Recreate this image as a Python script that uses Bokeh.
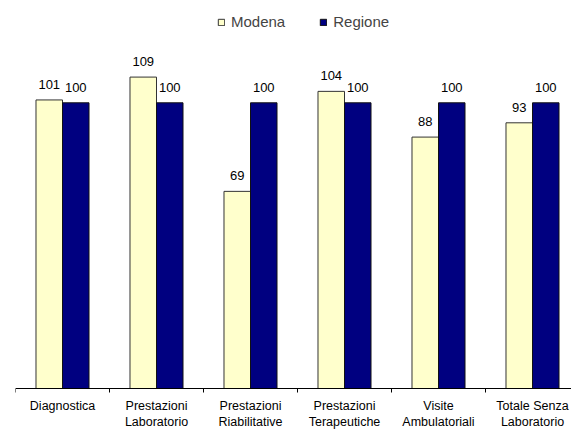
from bokeh.plotting import figure
from bokeh.models import ColumnDataSource, Range1d, Legend, LegendItem, Span
from bokeh.core.properties import value
from bokeh.transform import dodge
from bokeh.embed import file_html
from bokeh.resources import INLINE

# --- data -------------------------------------------------------------
categories_line1 = ["Diagnostica", "Prestazioni", "Prestazioni", "Prestazioni",
                    "Visite", "Totale Senza"]
categories_line2 = ["", "Laboratorio", "Riabilitative", "Terapeutiche",
                    "Ambulatoriali", "Laboratorio"]
modena = [101, 109, 69, 104, 88, 93]
regione = [100, 100, 100, 100, 100, 100]

# --- geometry ---------------------------------------------------------
W, H = 571, 429
CAT_PX = 94.0          # pixel width of one category slot
PX_PER_UNIT = 2.857    # vertical pixels per index point
BASELINE_PX = 388      # distance of the zero line from the top edge
LEFT_PX = 15
BAR_W = 0.282
TICK_PX = 4
FONT = "Liberation Sans"

n = len(modena)
centers = [i + 0.5 for i in range(n)]
bounds = list(range(n + 1))

src = ColumnDataSource(dict(
    x=centers,
    modena=modena,
    regione=regione,
    modena_lbl=[str(v) for v in modena],
    regione_lbl=[str(v) for v in regione],
    line1=categories_line1,
    line2=categories_line2,
    zero=[0] * n,
))

# the frame fills the whole canvas; zero sits BASELINE_PX from the top
p = figure(width=W, height=H, output_backend="svg", toolbar_location=None,
           x_range=Range1d(0, (W - LEFT_PX) / CAT_PX),
           y_range=Range1d(-(H - BASELINE_PX) / PX_PER_UNIT,
                           BASELINE_PX / PX_PER_UNIT),
           x_axis_type=None, y_axis_type=None,
           min_border_left=LEFT_PX, min_border_right=0,
           min_border_top=0, min_border_bottom=0)
p.outline_line_color = None
p.grid.visible = False
p.background_fill_color = "white"
p.border_fill_color = "white"

r_m = p.vbar(x=dodge("x", -BAR_W / 2), top="modena", bottom=0, width=BAR_W,
             source=src, fill_color="#FFFFCC", line_color="#333333", line_width=1)
r_r = p.vbar(x=dodge("x", BAR_W / 2), top="regione", bottom=0, width=BAR_W,
             source=src, fill_color="#000080", line_color="#111111", line_width=1)

# value labels above each bar
for col, lbl, off in (("modena", "modena_lbl", -BAR_W / 2),
                      ("regione", "regione_lbl", BAR_W / 2)):
    p.text(x=dodge("x", off), y=col, text=lbl, source=src,
           text_align="center", text_baseline="alphabetic", y_offset=-15.5,
           text_font=value(FONT), text_font_size="13px", text_color="black")

# category axis: zero line with ticks on the slot boundaries
p.add_layout(Span(location=0, dimension="width", line_color="black", line_width=1))
p.segment(x0=bounds, y0=[0] * len(bounds), x1=bounds,
          y1=[-TICK_PX / PX_PER_UNIT] * len(bounds), line_color="black", line_width=1)

# category names, two lines under each slot
for field, off in (("line1", 17), ("line2", 33)):
    p.text(x="x", y="zero", text=field, source=src, y_offset=off,
           text_align="center", text_baseline="alphabetic",
           text_font=value(FONT), text_font_size="12.5px", text_color="black")

legend = Legend(items=[LegendItem(label="Modena", renderers=[r_m]),
                       LegendItem(label="Regione", renderers=[r_r])],
                orientation="horizontal", location=(202, 399),
                padding=0, margin=0, spacing=34,
                glyph_width=8, glyph_height=8, label_standoff=6,
                label_height=16,
                label_text_font=FONT, label_text_font_size="15px",
                border_line_color=None, background_fill_alpha=0)
p.add_layout(legend)

open("out.html", "w").write(file_html(p, INLINE))
